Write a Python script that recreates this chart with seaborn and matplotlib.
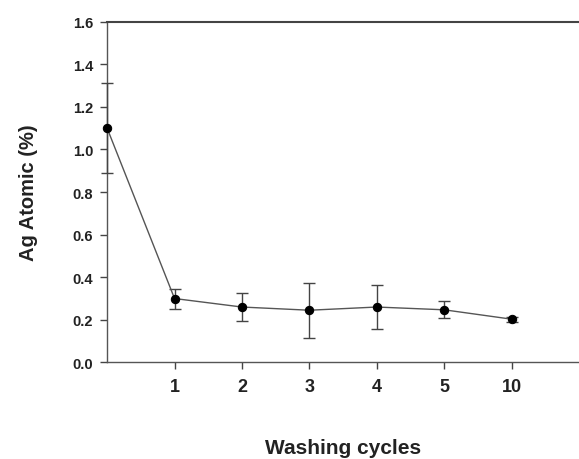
import matplotlib
matplotlib.use("Agg")
import matplotlib.pyplot as plt
import seaborn as sns
import pandas as pd

cycles = ["0", "1", "2", "3", "4", "5", "10"]
ag_atomic = [1.10, 0.30, 0.26, 0.245, 0.26, 0.247, 0.203]
ag_err = [0.21, 0.047, 0.066, 0.129, 0.103, 0.039, 0.012]
tick_labels = ["1", "2", "3", "4", "5", "10"]

sns.set_style("ticks")
plt.rcParams['font.family'] = ['Liberation Sans', 'DejaVu Sans']

df = pd.DataFrame({"pos": range(len(cycles)), "ag": ag_atomic, "err": ag_err})

fig = plt.figure(figsize=(5.79, 4.60), dpi=100)
ax = fig.add_axes([0.185, 0.21, 0.815, 0.7407])

ax.errorbar(df["pos"], df["ag"], yerr=df["err"], fmt="none", ecolor="#444444",
            elinewidth=1.0, capsize=4.5, capthick=1.0, clip_on=False, zorder=3)
sns.lineplot(data=df, x="pos", y="ag", ax=ax, color="#555555", linewidth=1.0,
             marker="o", markersize=6, markerfacecolor="black",
             markeredgecolor="black", clip_on=False, zorder=4)

ax.set_xlim(0, 7)
ax.set_ylim(0, 1.6)
ax.set_yticks([0.0, 0.2, 0.4, 0.6, 0.8, 1.0, 1.2, 1.4, 1.6])
ax.set_yticklabels([f"{v:.1f}" for v in ax.get_yticks()])
ax.set_xticks(range(1, 7))
ax.set_xticklabels(tick_labels)

for lbl in ax.get_yticklabels():
    lbl.set_fontweight("bold"); lbl.set_fontsize(10.5)
for lbl in ax.get_xticklabels():
    lbl.set_fontweight("bold"); lbl.set_fontsize(13)

ax.tick_params(axis="both", direction="out", length=5, width=1.0, color="#444444",
               labelcolor="#222222")
ax.tick_params(axis="y", pad=5)
ax.tick_params(axis="x", pad=6)

ax.set_xlabel("Washing cycles", fontsize=15, fontweight="bold", color="#222222", labelpad=31)
ax.set_ylabel("Ag Atomic (%)", fontsize=14.5, fontweight="bold", color="#222222", labelpad=25)

ax.spines["right"].set_visible(False)
for s in ["left", "bottom"]:
    ax.spines[s].set_color("#555555"); ax.spines[s].set_linewidth(1.0)
ax.spines["top"].set_color("#444444"); ax.spines["top"].set_linewidth(1.5)

fig.savefig("out.png", dpi=100)
